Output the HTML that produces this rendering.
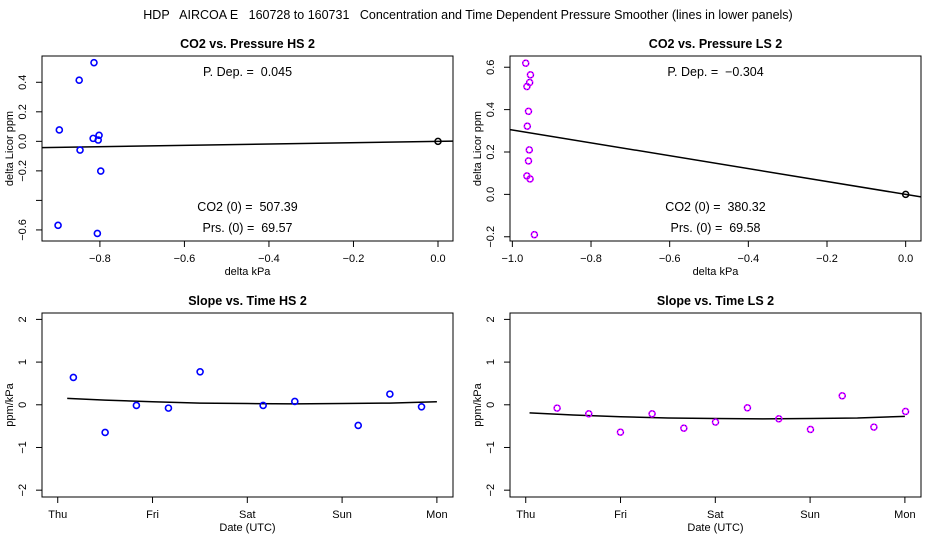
<!DOCTYPE html>
<html><head><meta charset="utf-8"><style>
body{margin:0;background:#fff}
svg{display:block;font-family:"Liberation Sans",sans-serif}
text{white-space:pre}
</style></head><body>
<svg id="c" width="936" height="540" viewBox="0 0 936 540">
<text x="468" y="19" text-anchor="middle" font-size="12.5" xml:space="preserve">HDP   AIRCOA E   160728 to 160731   Concentration and Time Dependent Pressure Smoother (lines in lower panels)</text>
</svg>
<script>
// Top-left: CO2 vs Pressure HS 2
const hsPresX = [-0.814,-0.849,-0.896,-0.816,-0.802,-0.804,-0.847,-0.798,-0.899,-0.806];
const hsPresY = [0.533,0.414,0.077,0.020,0.041,0.009,-0.059,-0.201,-0.569,-0.624];
const hsSlope = 0.045;
// Top-right: CO2 vs Pressure LS 2
const lsPresX = [-0.966,-0.954,-0.956,-0.963,-0.959,-0.962,-0.957,-0.959,-0.963,-0.955,-0.944];
const lsPresY = [0.619,0.564,0.528,0.509,0.392,0.322,0.210,0.158,0.087,0.073,-0.190];
const lsSlope = -0.304;
// Bottom-left: slope vs time HS 2 (days since Thu)
const hsTimeT = [0.165,0.500,0.830,1.168,1.502,2.167,2.501,3.170,3.504,3.838];
const hsTimeY = [0.641,-0.648,-0.016,-0.078,0.773,-0.016,0.078,-0.484,0.250,-0.047];
const hsSmoothT = [0.1,0.5,1,1.5,2,2.5,3,3.5,4];
const hsSmoothY = [0.15,0.11,0.07,0.04,0.03,0.02,0.03,0.04,0.07];
// Bottom-right: slope vs time LS 2
const lsTimeT = [0.331,0.665,0.999,1.333,1.668,2.002,2.339,2.670,3.004,3.339,3.673,4.007];
const lsTimeY = [-0.078,-0.211,-0.641,-0.211,-0.547,-0.406,-0.070,-0.328,-0.578,0.211,-0.523,-0.156];
const lsSmoothT = [0.04,0.5,1,1.5,2,2.5,3,3.5,4];
const lsSmoothY = [-0.19,-0.24,-0.28,-0.31,-0.32,-0.33,-0.32,-0.31,-0.27];
const dayLabels = ["Thu","Fri","Sat","Sun","Mon"];
const hsYTicks = [0.4,0.2,0.0,-0.2,-0.4,-0.6];
const hsYLabels = ["0.4","0.2","0.0","\u22120.2","","\u22120.6"];
const hsXTicks = [-0.8,-0.6,-0.4,-0.2,0.0];
const lsXTicks = [-1.0,-0.8,-0.6,-0.4,-0.2,0.0];
const lsYTicks = [0.6,0.4,0.2,0.0,-0.2];
const timeYTicks = [2,1,0,-1,-2];

const svg = document.getElementById('c');
const NS = 'http://www.w3.org/2000/svg';
function mk(tag, attrs, parent){const e=document.createElementNS(NS,tag);for(const k in attrs)e.setAttribute(k,attrs[k]);(parent||svg).appendChild(e);return e;}
function fmt(v){return (v<0?'\u2212':'')+Math.abs(v).toFixed(1);}

function panel(o){
  const g = mk('g',{});
  
  
  const x = v => o.L + (v - o.xmin)/(o.xmax - o.xmin)*(o.R - o.L);
  const y = v => o.B - (v - o.ymin)/(o.ymax - o.ymin)*(o.B - o.T);
  const box = mk('rect',{x:o.L,y:o.T,width:o.R-o.L,height:o.B-o.T,fill:'none',stroke:'#000','stroke-width':1},g);
  
  
  const t = mk('text',{x:(o.L+o.R)/2,y:o.T-8,'text-anchor':'middle','font-size':12.5,'font-weight':'bold'},g);
  t.textContent=o.title;
  
  
  const xa = mk('g',{},g);
  
  
  mk('line',{x1:x(o.xt[0]),x2:x(o.xt[o.xt.length-1]),y1:o.B,y2:o.B,stroke:'#000'},xa);
  o.xt.forEach((v,i)=>{
    mk('line',{x1:x(v),x2:x(v),y1:o.B,y2:o.B+6,stroke:'#000'},xa);
    const tl = mk('text',{x:x(v),y:o.B+21,'text-anchor':'middle','font-size':11},xa);
    tl.textContent = o.xl[i];
    
    
  });
  const xt = mk('text',{x:(o.L+o.R)/2,y:o.B+34,'text-anchor':'middle','font-size':11},g);
  xt.textContent=o.xtitle;
  
  
  const ya = mk('g',{},g);
  
  
  mk('line',{x1:o.L,x2:o.L,y1:y(o.yt[0]),y2:y(o.yt[o.yt.length-1]),stroke:'#000'},ya);
  o.yt.forEach((v,i)=>{
    mk('line',{x1:o.L-6,x2:o.L,y1:y(v),y2:y(v),stroke:'#000'},ya);
    const tl = mk('text',{x:o.L-16,y:y(v),'text-anchor':'middle','font-size':11,transform:`rotate(-90 ${o.L-16} ${y(v)})`},ya);
    tl.textContent = o.yl[i];
    
    
  });
  const yt = mk('text',{x:o.L-29,y:(o.T+o.B)/2,'text-anchor':'middle','font-size':11,transform:`rotate(-90 ${o.L-29} ${(o.T+o.B)/2})`},g);
  yt.textContent=o.ytitle;
  
  
  const cid='clip'+o.name;
  const cp=mk('clipPath',{id:cid},g);mk('rect',{x:o.L,y:o.T,width:o.R-o.L,height:o.B-o.T},cp);
  if(o.slope!==undefined){
    const ln = mk('line',{x1:x(o.xmin),y1:y(o.slope*o.xmin),x2:x(o.xmax),y2:y(o.slope*o.xmax),stroke:'#000','stroke-width':1.5,'clip-path':`url(#${cid})`},g);
    
    
    const z = mk('circle',{cx:x(0),cy:y(0),r:3,fill:'none',stroke:'#000','stroke-width':1.5},g);
    
    
  }
  if(o.sx){
    const pts=o.sx.map((v,i)=>x(v)+','+y(o.sy[i])).join(' ');
    const pl = mk('polyline',{points:pts,fill:'none',stroke:'#000','stroke-width':1.5},g);
    
    
  }
  o.px.forEach((v,i)=>{
    const c = mk('circle',{cx:x(v),cy:y(o.py[i]),r:3,fill:'none',stroke:o.color,'stroke-width':1.6},g);
    
    
    if(o.inner){ mk('circle',{cx:x(v),cy:y(o.py[i]),r:3,fill:'none',stroke:o.inner,'stroke-width':0.7,'stroke-dasharray':'1.5 1.5'},g); }
  });
  (o.notes||[]).forEach(n=>{
    const tn = mk('text',{x:(o.L+o.R)/2,y:n[1],'text-anchor':'middle','font-size':12.5},g);
    tn.textContent=n[0];
    
    
  });
}

panel({name:'co2-vs-pressure-hs2',title:'CO2 vs. Pressure HS 2',L:42,R:453,T:56,B:241,xmin:-0.937,xmax:0.0355,ymin:-0.675,ymax:0.578,
  xt:hsXTicks,xl:hsXTicks.map(fmt),yt:hsYTicks,yl:hsYLabels,xtitle:'delta kPa',ytitle:'delta Licor ppm',
  px:hsPresX,py:hsPresY,color:'#0000ff',slope:hsSlope,
  notes:[['P. Dep. =  0.045',76],['CO2 (0) =  507.39',211],['Prs. (0) =  69.57',232]]});
panel({name:'co2-vs-pressure-ls2',title:'CO2 vs. Pressure LS 2',L:510,R:921,T:56,B:241,xmin:-1.006,xmax:0.039,ymin:-0.22,ymax:0.653,
  xt:lsXTicks,xl:lsXTicks.map(fmt),yt:lsYTicks,yl:lsYTicks.map(fmt),xtitle:'delta kPa',ytitle:'delta Licor ppm',
  px:lsPresX,py:lsPresY,color:'#ff00ff',inner:'#0000ff',slope:lsSlope,
  notes:[['P. Dep. =  \u22120.304',76],['CO2 (0) =  380.32',211],['Prs. (0) =  69.58',232]]});
panel({name:'slope-vs-time-hs2',title:'Slope vs. Time HS 2',L:42,R:453,T:313,B:497,xmin:-0.166,xmax:4.17,ymin:-2.16,ymax:2.15,
  xt:[0,1,2,3,4],xl:dayLabels,yt:timeYTicks,yl:timeYTicks.map(v=>v<0?'\u2212'+(-v):String(v)),xtitle:'Date (UTC)',ytitle:'ppm/kPa',
  px:hsTimeT,py:hsTimeY,color:'#0000ff',sx:hsSmoothT,sy:hsSmoothY});
panel({name:'slope-vs-time-ls2',title:'Slope vs. Time LS 2',L:510,R:921,T:313,B:497,xmin:-0.166,xmax:4.17,ymin:-2.16,ymax:2.15,
  xt:[0,1,2,3,4],xl:dayLabels,yt:timeYTicks,yl:timeYTicks.map(v=>v<0?'\u2212'+(-v):String(v)),xtitle:'Date (UTC)',ytitle:'ppm/kPa',
  px:lsTimeT,py:lsTimeY,color:'#ff00ff',inner:'#0000ff',sx:lsSmoothT,sy:lsSmoothY});
</script>
</body></html>
